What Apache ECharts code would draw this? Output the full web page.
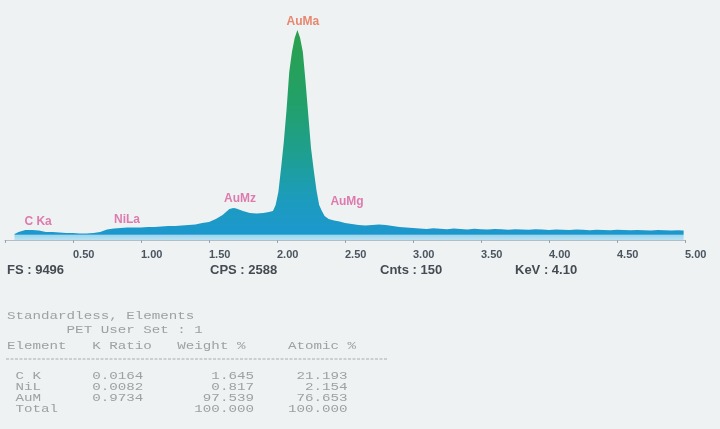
<!DOCTYPE html>
<html>
<head>
<meta charset="utf-8">
<script src="https://cdn.jsdelivr.net/npm/echarts@6/dist/echarts.min.js"></script>
<style>
html,body{margin:0;padding:0;background:#eef2f2;}
#chart{width:720px;height:429px;}
</style>
</head>
<body>
<div id="chart"></div>
<script>
// Spectrum: energy (keV) and counts
const energy = [0.07,0.10,0.15,0.20,0.25,0.30,0.35,0.40,0.45,0.50,0.55,0.60,0.65,0.70,0.75,0.80,0.85,0.90,0.95,1.00,
  1.05,1.10,1.15,1.20,1.25,1.30,1.35,1.40,1.45,1.50,1.55,1.60,1.65,1.68,1.70,1.75,1.80,1.85,1.90,1.94,1.97,1.99,
  2.01,2.03,2.05,2.07,2.09,2.11,2.13,2.15,2.17,2.19,2.21,2.23,2.25,2.27,2.29,2.31,2.33,2.35,2.38,2.42,2.46,2.50,
  2.55,2.60,2.65,2.70,2.75,2.80,2.85,2.90,2.95,3.00,3.05,3.10,3.15,3.20,3.25,3.30,3.35,3.40,3.45,3.50,3.55,3.60,
  3.65,3.70,3.75,3.80,3.85,3.90,3.95,4.00,4.05,4.10,4.15,4.20,4.25,4.30,4.35,4.40,4.45,4.50,4.55,4.60,4.65,4.70,
  4.75,4.80,4.85,4.90,4.95,4.99];
const counts = [271,362,452,452,429,362,362,339,316,316,294,294,316,362,475,520,542,565,565,565,
  588,588,610,633,633,655,678,701,768,814,949,1130,1401,1446,1424,1311,1220,1198,1220,1266,1311,1582,
  2170,3254,4430,5876,7594,8498,9130,9496,9130,8498,7142,5650,4158,3164,2260,1582,1311,1085,949,881,836,768,
  723,678,655,678,701,678,633,588,565,542,520,498,530,505,488,515,495,478,505,490,470,498,
  482,465,490,475,460,485,470,455,478,462,450,472,458,445,466,452,440,460,448,436,455,442,
  430,450,438,428,445,435];

// Peak annotations
const peakNames = ['C Ka','NiLa','AuMz','AuMa','AuMg'];
const peakEnergy = [0.243,0.897,1.728,2.19,2.515];
const peakCounts = [814,904,1853,9854,1718];

// Axis ticks
const xTicks = [0.5,1.0,1.5,2.0,2.5,3.0,3.5,4.0,4.5,5.0];

// Acquisition info
const infoLabels = ['FS : 9496','CPS : 2588','Cnts : 150','KeV : 4.10'];

// Quantification table
const tableTitle = ['Standardless, Elements','       PET User Set : 1'];
const tableHeader = ['Element','K Ratio','Weight %','Atomic %'];
const elements = ['C K','NiL','AuM','Total'];
const kRatio = ['0.0164','0.0082','0.9734',''];
const weightPct = ['1.645','0.817','97.539','100.000'];
const atomicPct = ['21.193','2.154','76.653','100.000'];

const chart = echarts.init(document.getElementById('chart'));

const spectrum = energy.map((e,i)=>[e,counts[i]]);
const peakColors = {'AuMa':'#e66a4e'};
const peaks = peakNames.map((n,i)=>({
  value:[peakEnergy[i],peakCounts[i]], name:n,
  label:{color: peakColors[n] || '#d95c9c'}
}));

const mono = '11px "Liberation Mono", monospace';
const tcol = '#9ea1a2';
const SX = 1.29;
function monoText(t, y){
  return {type:'text',x:7,y:y,scaleX:SX,scaleY:1,
    style:{text:t,font:mono,fill:tcol,verticalAlign:'middle',textVerticalAlign:'middle'}};
}
const graphics = [];
const infoX = [7,210,380,515];
infoLabels.forEach((t,i)=>graphics.push({type:'text',left:infoX[i],top:264,
  style:{text:t,font:'bold 13px "Liberation Sans", Arial',fill:'#454b52'}}));
graphics.push(monoText(tableTitle[0],316));
graphics.push(monoText(tableTitle[1],330));
const hdr = tableHeader[0].padEnd(10)+tableHeader[1].padEnd(10)+tableHeader[2].padEnd(13)+tableHeader[3];
graphics.push(monoText(hdr,346));
graphics.push({type:'line',shape:{x1:6,y1:359,x2:388,y2:359},style:{stroke:'#a9acad',lineWidth:1,lineDash:[3,1.5]}});
const rowY = [376,387,398,409];
elements.forEach((el,i)=>{
  const line = (' '+el).padEnd(10)+kRatio[i].padEnd(6)+weightPct[i].padStart(13)+atomicPct[i].padStart(11);
  graphics.push(monoText(line,rowY[i]));
});

chart.setOption({
  backgroundColor:'#eef2f2',
  animation:false,
  grid:{left:5,right:35,top:30,bottom:189},
  xAxis:{type:'value',min:0,max:5,interval:0.5,
    axisLine:{lineStyle:{color:'#b4bcc4',width:1}},
    axisTick:{show:true,length:3,lineStyle:{color:'#9aa4ad'}},
    splitLine:{show:false},
    axisLabel:{align:'left',margin:9,color:'#4a5560',fontWeight:'bold',fontSize:11,
      fontFamily:'"Liberation Sans", Arial',
      formatter:v=> xTicks.some(t=>Math.abs(t-v)<1e-9) ? v.toFixed(2) : ''}},
  yAxis:{type:'value',min:0,max:9496,show:false,splitLine:{show:false}},
  series:[{
    type:'line',data:spectrum,symbol:'none',smooth:false,
    lineStyle:{width:0},
    areaStyle:{opacity:1,color:new echarts.graphic.LinearGradient(0,30,0,240,[
      {offset:0,color:'#2ba04c'},
      {offset:0.35,color:'#22a06a'},
      {offset:0.6,color:'#1e9f92'},
      {offset:0.8,color:'#1c9cbc'},
      {offset:0.95,color:'#1d98cc'},
      {offset:0.972,color:'#1d98cc'},
      {offset:0.978,color:'#9fd6ee'},
      {offset:1,color:'#b8e2f4'}],true)}
  },{
    type:'scatter',data:peaks,symbolSize:0,clip:false,silent:true,
    label:{show:true,position:'inside',formatter:p=>p.name,
      fontSize:12,fontWeight:'bold',fontFamily:'"Liberation Sans", Arial'}
  }],
  graphic:graphics
});
</script>
</body>
</html>
